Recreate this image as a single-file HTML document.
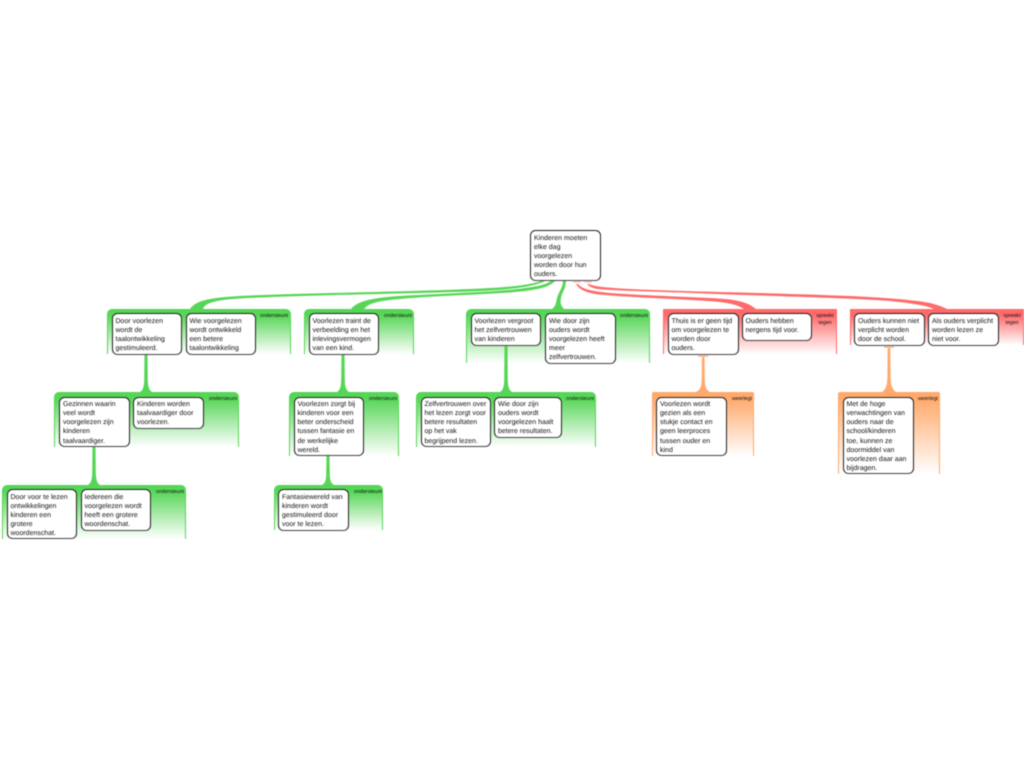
<!DOCTYPE html>
<html><head><meta charset="utf-8"><style>
html,body{margin:0;padding:0;background:#fff}
#p{position:relative;width:1024px;height:768px;overflow:hidden;background:#fff;font-family:"Liberation Sans",sans-serif;filter:blur(.4px)}
.g{position:absolute;box-sizing:border-box;border-radius:5px 5px 0 0}
.gg{background:linear-gradient(#56d656 0,#56d656 5px,#fff 100%);border-left:1.5px solid #56d656;border-right:1.5px solid #56d656;border-top:1px solid #56d656}
.gr{background:linear-gradient(#ff6a6a 0,#ff6a6a 5px,#fff 100%);border-left:1.5px solid #ff6a6a;border-right:1.5px solid #ff6a6a;border-top:1px solid #ff6a6a;border-radius:1px 1px 0 0}
.go{background:linear-gradient(#ffa96b 0,#ffa96b 5px,#fff 100%);border-left:1.5px solid #ffa96b;border-right:1.5px solid #ffa96b;border-top:1px solid #ffa96b;border-radius:2px 2px 0 0}
.b{position:absolute;box-sizing:border-box;background:#fff;border:1.2px solid #222;border-bottom:1.7px solid #444;border-radius:5.5px;font-size:7px;line-height:9.1px;color:#111;padding:2.7px 0 0 3px;white-space:nowrap;text-rendering:geometricPrecision}
.l{position:absolute;font-size:5.3px;line-height:7px;color:#111;white-space:nowrap;text-align:right;text-rendering:geometricPrecision}
.c{text-align:center}
svg{position:absolute;left:0;top:0}
</style></head><body><div id="p">
<div class="g gg" style="left:107px;top:309px;width:184px;height:45px"></div>
<div class="g gg" style="left:304px;top:309px;width:110px;height:45px"></div>
<div class="g gg" style="left:466px;top:309px;width:184px;height:54px"></div>
<div class="g gr" style="left:663px;top:309px;width:174px;height:45px"></div>
<div class="g gr" style="left:850px;top:309px;width:174px;height:36px"></div>
<div class="g gg" style="left:54px;top:392px;width:185px;height:55px"></div>
<div class="g gg" style="left:289px;top:392px;width:110px;height:64px"></div>
<div class="g gg" style="left:416px;top:392px;width:180px;height:55px"></div>
<div class="g go" style="left:652px;top:392px;width:102px;height:64px"></div>
<div class="g go" style="left:838px;top:392px;width:102px;height:82px"></div>
<div class="g gg" style="left:2px;top:485px;width:184px;height:54px"></div>
<div class="g gg" style="left:274px;top:485px;width:109px;height:45px"></div>

<svg width="1024" height="768" viewBox="0 0 1024 768">
<g fill="#56d656">
<path d="M190 309C196 301 206 298 240 296C300 293 400 292 470 289C510 287.500 532 285 543 280L547 280C535 287 510 290 470 291.500C400 294 300 295 240 298.500C215 300 205 303 203 309Z"/>
<path d="M351 309C356 303 366 298 400 296C450 293 500 292 525 288C540 286 548 284 552 280L556 280C550 287 540 289 525 291C490 295 440 295 400 299C375 301 368 304 364 309Z"/>
<path d="M552 309C556 306 556 302 557 298C559 291 563 288 563 280L566 280C566 289 562 292 561 298C560 303 561 306 564 309Z"/>
<path d="M144.500 354L147.500 354L147.800 380C148 387 149 390 152 392L140 392C143 390 144 387 144.200 380Z"/>
<path d="M341.500 354L344.500 354L344.800 380C345 387 346 390 349 392L337 392C340 390 341 387 341.200 380Z"/>
<path d="M504.500 345L507.500 345L507.800 380C508 387 509 390 512 392L500 392C503 390 504 387 504.200 380Z"/>
<path d="M92.500 447L95.500 447L95.800 473C96 480 97 483 100 485L88 485C91 483 92 480 92.200 473Z"/>
<path d="M326.500 456L329.500 456L329.800 475C330 481 331 483 334 485L322 485C325 483 326 481 326.200 475Z"/>
</g>
<g fill="#ff6a6a">
<rect x="573" y="281.500" width="8" height="1" opacity=".6"/>
<rect x="584" y="281.500" width="8" height="1" opacity=".6"/>
<path d="M576 284L578 284C582 289 590 291 610 293C650 296 700 297 725 299C742 300.500 750 304 756 309L744 309C738 305 730 303 715 301.500C680 299 640 298 605 295C590 294 580 291 576 284Z"/>
<path d="M587 284L589 284C595 287 610 288 640 289.500C700 292 780 293 850 296C890 298 915 300 930 303C938 305 943 307 947 309L934 309C928 306 915 303.500 890 301C840 297.500 760 296 680 292.500C640 291 605 290.500 595 288.500C591 287.500 589 286 587 284Z"/>
</g>
<g fill="#ffa96b">
<rect x="698" y="355.500" width="10" height="1.200"/>
<rect x="884" y="346.500" width="10" height="1.200"/>
<path d="M702 357L704.500 357L704.800 380C705 387 706 390 710 392L696 392C700 390 701.500 387 701.700 380Z"/>
<path d="M887.700 348L890.300 348L890.600 378C891 386 892 389 896 392L882 392C886 389 887 386 887.400 378Z"/>
</g>
</svg>

<div class="l" style="right:736px;top:312.500px">ondersteunt</div>
<div class="l" style="right:612px;top:312.500px">ondersteunt</div>
<div class="l" style="right:376px;top:312.500px">ondersteunt</div>
<div class="l c" style="left:813px;width:24px;top:312.500px">spreekt<br>tegen</div>
<div class="l c" style="left:1000px;width:24px;top:312.500px">spreekt<br>tegen</div>
<div class="l" style="right:787px;top:396px">ondersteunt</div>
<div class="l" style="right:627px;top:396px">ondersteunt</div>
<div class="l" style="right:430px;top:396px">ondersteunt</div>
<div class="l" style="right:272px;top:396px">weerlegt</div>
<div class="l" style="right:86px;top:396px">weerlegt</div>
<div class="l" style="right:840px;top:488.500px">ondersteunt</div>
<div class="l" style="right:642px;top:488.500px">ondersteunt</div>

<div class="b" style="left:530px;top:230px;width:71px;height:51px">Kinderen moeten<br>elke dag<br>voorgelezen<br>worden door hun<br>ouders.</div>
<div class="b" style="left:111.500px;top:313px;width:70.500px;height:41.500px">Door voorlezen<br>wordt de<br>taalontwikkeling<br>gestimuleerd.</div>
<div class="b" style="left:185.500px;top:313px;width:70.500px;height:41.500px">Wie voorgelezen<br>wordt ontwikkeld<br>een betere<br>taalontwikkeling</div>
<div class="b" style="left:308.500px;top:313px;width:70.500px;height:41.500px">Voorlezen traint de<br>verbeelding en het<br>inlevingsvermogen<br>van een kind.</div>
<div class="b" style="left:470.500px;top:313px;width:70.500px;height:32.500px">Voorlezen vergroot<br>het zelfvertrouwen<br>van kinderen</div>
<div class="b" style="left:545px;top:313px;width:70.500px;height:50.500px">Wie door zijn<br>ouders wordt<br>voorgelezen heeft<br>meer<br>zelfvertrouwen.</div>
<div class="b" style="left:667.500px;top:313px;width:71px;height:41.500px">Thuis is er geen tijd<br>om voorgelezen te<br>worden door<br>ouders.</div>
<div class="b" style="left:741.500px;top:313px;width:70.500px;height:27.500px">Ouders hebben<br>nergens tijd voor.</div>
<div class="b" style="left:854px;top:313px;width:70.500px;height:32.500px">Ouders kunnen niet<br>verplicht worden<br>door de school.</div>
<div class="b" style="left:928px;top:313px;width:70.500px;height:32.500px">Als ouders verplicht<br>worden lezen ze<br>niet voor.</div>
<div class="b" style="left:59px;top:396.500px;width:70.500px;height:50.500px">Gezinnen waarin<br>veel wordt<br>voorgelezen zijn<br>kinderen<br>taalvaardiger.</div>
<div class="b" style="left:133px;top:396.500px;width:70.500px;height:32.500px">Kinderen worden<br>taalvaardiger door<br>voorlezen.</div>
<div class="b" style="left:293.500px;top:396.500px;width:70.500px;height:59.500px">Voorlezen zorgt bij<br>kinderen voor een<br>beter onderscheid<br>tussen fantasie en<br>de werkelijke<br>wereld.</div>
<div class="b" style="left:420.500px;top:396.500px;width:70.500px;height:50.500px">Zelfvertrouwen over<br>het lezen zorgt voor<br>betere resultaten<br>op het vak<br>begrijpend lezen.</div>
<div class="b" style="left:494px;top:396.500px;width:67.500px;height:41px">Wie door zijn<br>ouders wordt<br>voorgelezen haalt<br>betere resultaten.</div>
<div class="b" style="left:656px;top:396.500px;width:71px;height:59.500px">Voorlezen wordt<br>gezien als een<br>stukje contact en<br>geen leerproces<br>tussen ouder en<br>kind</div>
<div class="b" style="left:842.500px;top:396.500px;width:71px;height:77.500px">Met de hoge<br>verwachtingen van<br>ouders naar de<br>school/kinderen<br>toe, kunnen ze<br>doormiddel van<br>voorlezen daar aan<br>bijdragen.</div>
<div class="b" style="left:6.500px;top:489px;width:70.500px;height:50px">Door voor te lezen<br>ontwikkelingen<br>kinderen een<br>grotere<br>woordenschat.</div>
<div class="b" style="left:80.500px;top:489px;width:70.500px;height:41.500px">Iedereen die<br>voorgelezen wordt<br>heeft een grotere<br>woordenschat.</div>
<div class="b" style="left:278px;top:489px;width:70.500px;height:41.500px">Fantasiewereld van<br>kinderen wordt<br>gestimuleerd door<br>voor te lezen.</div>
</div></body></html>
